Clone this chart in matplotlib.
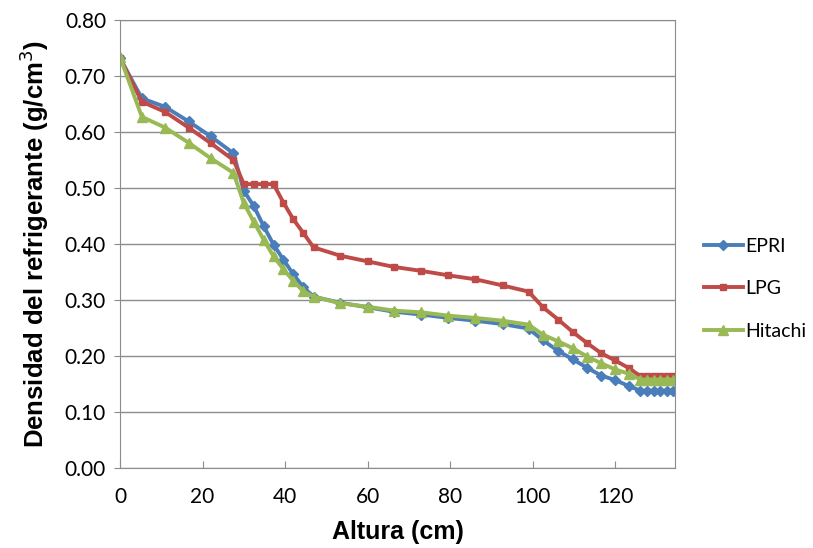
import matplotlib.pyplot as plt

# Altura (cm) y densidad (g/cm3)
altura = [0, 5.3, 10.9, 16.6, 22.0, 27.5, 30.0, 32.4, 34.8, 37.2, 39.6, 42.0,
          44.4, 46.9, 53.4, 60.0, 66.4, 73.0, 79.6, 86.1, 92.7, 99.0, 102.5,
          106.2, 109.7, 113.2, 116.6, 120.0, 123.4, 126.1, 127.7, 129.3,
          130.9, 132.5, 134.1]

epri = [0.732, 0.660, 0.645, 0.619, 0.592, 0.562, 0.495, 0.468, 0.432, 0.399,
        0.372, 0.346, 0.323, 0.306, 0.295, 0.287, 0.279, 0.274, 0.268, 0.263,
        0.257, 0.249, 0.228, 0.209, 0.194, 0.179, 0.165, 0.157, 0.146,
        0.138, 0.138, 0.138, 0.138, 0.138, 0.138]

lpg = [0.732, 0.654, 0.636, 0.608, 0.580, 0.550, 0.507, 0.507, 0.507, 0.507,
       0.474, 0.444, 0.420, 0.394, 0.379, 0.369, 0.359, 0.352, 0.344, 0.337,
       0.326, 0.315, 0.287, 0.265, 0.243, 0.223, 0.205, 0.192, 0.178,
       0.164, 0.164, 0.164, 0.164, 0.164, 0.164]

hitachi = [0.734, 0.627, 0.608, 0.581, 0.553, 0.527, 0.473, 0.440, 0.408,
           0.378, 0.355, 0.334, 0.316, 0.306, 0.294, 0.288, 0.281, 0.278,
           0.272, 0.268, 0.263, 0.256, 0.238, 0.226, 0.214, 0.199, 0.187,
           0.176, 0.168, 0.158, 0.158, 0.158, 0.158, 0.158, 0.158]

x_ticks = [0, 20, 40, 60, 80, 100, 120]
y_ticks = [0.0, 0.1, 0.2, 0.3, 0.4, 0.5, 0.6, 0.7, 0.8]

fig = plt.figure(figsize=(8.13, 5.48), dpi=100)
ax = fig.add_axes([0.1476, 0.146, 0.6827, 0.8175])

ax.plot(altura, epri, color='#4A7EBB', lw=2.8, marker='D', ms=5, label='EPRI')
ax.plot(altura, lpg, color='#BE4B48', lw=2.8, marker='s', ms=5, label='LPG')
ax.plot(altura, hitachi, color='#98B954', lw=2.8, marker='^', ms=7, label='Hitachi')

ax.set_xlim(0, 134.5)
ax.set_ylim(0, 0.8)
ax.set_xticks(x_ticks)
ax.set_yticks(y_ticks)
ax.set_yticklabels([f"{v:.2f}" for v in y_ticks])
ax.grid(axis='y', color='#8c8c8c', lw=1)
ax.set_axisbelow(True)
for s in ax.spines.values():
    s.set_color('#8c8c8c')
ax.tick_params(axis='x', direction='in', length=5, color='#8c8c8c', pad=14)
ax.tick_params(axis='y', direction='out', length=4, color='#8c8c8c', pad=6)
for lab in ax.get_xticklabels() + ax.get_yticklabels():
    lab.set_fontfamily('Lato')
    lab.set_fontsize(15)

ax.set_xlabel('Altura (cm)', fontfamily='Liberation Sans', fontweight='bold',
              fontsize=18, labelpad=9)
ax.set_ylabel('Densidad del refrigerante (g/cm$^3$)', fontfamily='Liberation Sans',
              fontweight='bold', fontsize=18.5, labelpad=10)

leg = ax.legend(loc='center left', bbox_to_anchor=(1.02, 0.40), frameon=False,
                prop={'family': 'Lato', 'size': 14}, handlelength=2.0,
                handletextpad=0.15, labelspacing=1.3)

fig.savefig('out.png', dpi=100)
